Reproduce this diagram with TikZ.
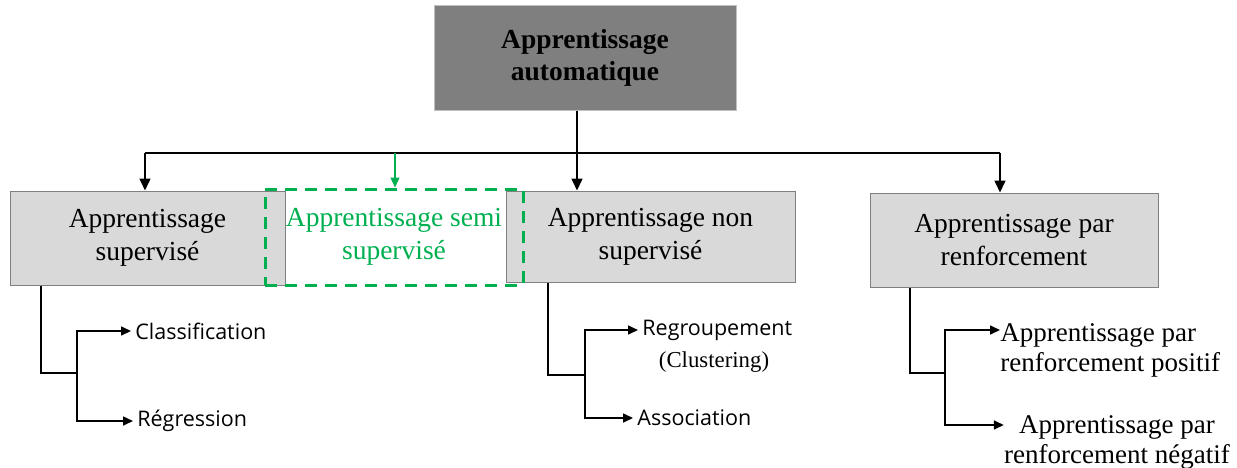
\documentclass[tikz,border=0pt]{standalone}
\usepackage{fontspec}
\setmainfont{Liberation Serif}
\newfontfamily\osans{Open Sans}
\usetikzlibrary{arrows.meta}
\definecolor{boxgray}{HTML}{D9D9D9}
\definecolor{boxedge}{HTML}{808080}
\definecolor{topgray}{HTML}{7F7F7F}
\definecolor{topedge}{HTML}{C0C0C0}
\definecolor{semigreen}{HTML}{00B050}
\begin{document}
\begin{tikzpicture}[x=0.5pt,y=-0.5pt,
  mainbox/.style={draw=boxedge, line width=0.5pt, fill=boxgray, inner sep=0pt, align=center,
    font=\fontsize{13.75}{16.5}\selectfont},
  topbox/.style={draw=topedge, line width=0.5pt, fill=topgray, inner sep=0pt, align=center,
    font=\fontsize{13.75}{16}\selectfont\bfseries},
  semibox/.style={draw=semigreen, line width=1.5pt, dash pattern=on 6pt off 4pt, inner sep=0pt,
    align=center, text=semigreen, font=\fontsize{13.75}{16.5}\selectfont},
  conn/.style={draw=black, line width=0.8pt},
  arr/.style={conn, -{Triangle[length=6pt,width=5.5pt]}},
  sarr/.style={conn, -{Triangle[length=5pt,width=4.5pt]}},
  garr/.style={draw=semigreen, line width=0.6pt, -{Triangle[length=5pt,width=4.5pt]}},
  sansitem/.style={inner sep=2pt, font=\osans\fontsize{10.75}{13}\selectfont},
  serifitem/.style={inner sep=0pt, font=\fontsize{13.5}{15}\selectfont},
]
\useasboundingbox (0,0) rectangle (1237,467);

% main boxes
\node[topbox, minimum width=151pt, minimum height=52.5pt] (top) at (585,57.5) {Apprentissage\\automatique};
\node[mainbox, minimum width=137.5pt, minimum height=47pt] (sup) at (147.5,238) {Apprentissage\\supervisé};
\node[mainbox, minimum width=144.5pt, minimum height=45.5pt] (nsup) at (650.5,236.5) {Apprentissage non\\supervisé};
\node[mainbox, minimum width=144pt, minimum height=47pt] (renf) at (1014,240) {Apprentissage par\\renforcement};
\node[semibox, minimum width=129pt, minimum height=48pt] (semi) at (394,237) {Apprentissage semi\\supervisé};

% bus
\coordinate (bus) at (577,153);
\coordinate (busL) at (145,153);
\coordinate (busR) at (1000,153);
\coordinate (busS) at (395,153);
\draw[conn] (bus |- top.south) -- (bus);
\draw[conn] (busL) -- (busR);
\draw[arr] (busL) -- (busL |- sup.north);
\draw[arr] (bus) -- (bus |- nsup.north);
\draw[arr] (busR) -- (busR |- renf.north);
\draw[garr] (busS) -- (busS |- semi.north);

% sub items
\node[sansitem, anchor=west] (cls) at (131,331) {Classification};
\node[sansitem, anchor=west] (regr) at (133,421) {Régression};
\node[sansitem, anchor=west] (grp) at (638,330) {Regroupement};
\node[inner sep=0pt, font=\fontsize{11.4}{13}\selectfont] (clu) at (714,362) {(Clustering)};
\node[sansitem, anchor=west] (asso) at (633,418) {Association};
\node[serifitem, align=left, anchor=north west] (pos) at (1000,323) {Apprentissage par\\renforcement positif};
\node[serifitem, align=center, anchor=north] (neg) at (1117,415) {Apprentissage par\\renforcement négatif};

% left tree
\coordinate (s1) at (41,373);
\coordinate (j1) at (77,373);
\draw[conn] (s1 |- sup.south) -- (s1) -- (j1);
\draw[sarr] (j1) |- (cls.west);
\draw[sarr] (j1) |- (regr.west);

% middle tree
\coordinate (s2) at (548,375);
\coordinate (j2) at (585,375);
\draw[conn] (s2 |- nsup.south) -- (s2) -- (j2);
\draw[sarr] (j2) |- (grp.west);
\draw[sarr] (j2) |- (asso.west);

% right tree
\coordinate (s3) at (910,373);
\coordinate (j3) at (945,373);
\coordinate (a3) at (945,330);
\coordinate (b3) at (945,425);
\draw[conn] (s3 |- renf.south) -- (s3) -- (j3);
\draw[sarr] (j3) -- (a3) -- (a3 -| pos.west);
\draw[sarr] (j3) -- (b3) -- (b3 -| neg.west);
\end{tikzpicture}
\end{document}
